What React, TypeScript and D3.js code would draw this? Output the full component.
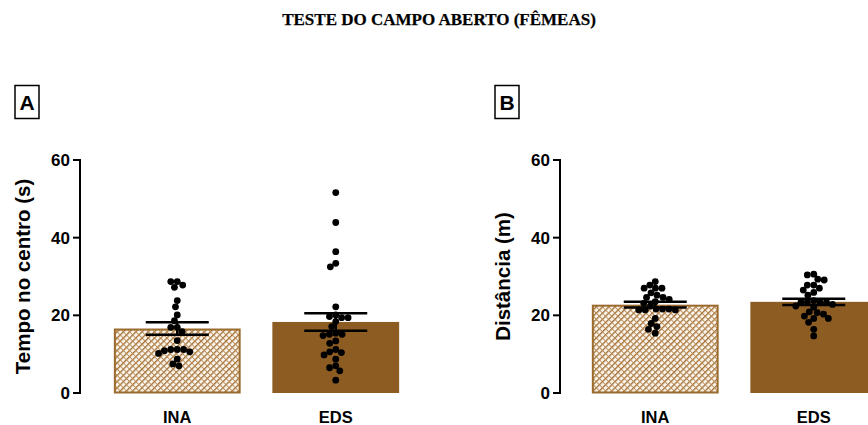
import React from "react";
import * as d3 from "d3";

// Groups shown on the x axis of both panels
const groups = ["INA", "EDS"];

// Panel A: time spent in the centre (s), one value per animal
const tempoINA = [
  27.8, 28.7, 28.7, 27.2, 23.8, 22.2, 20.1, 18.6, 16.9, 16.9, 15.8, 13.5,
  10.6, 10.2, 10.9, 11.2, 11.2, 11.2, 8.7, 7.5, 7.0,
];
const tempoEDS = [
  51.6, 43.9, 36.4, 33.4, 32.5, 22.2, 19.4, 19.7, 20.1, 19.4, 18.4, 17.1,
  15.1, 14.8, 15.4, 15.1, 13.4, 12.8, 11.2, 10.6, 10.4, 9.8, 8.7, 7.0, 6.5,
  5.7, 3.3,
];

// Panel B: distance travelled (m), one value per animal
const distINA = [
  28.7, 27.8, 27.0, 27.0, 27.0, 25.8, 25.2, 24.6, 24.6, 24.1, 23.1, 23.5,
  22.4, 21.4, 21.6, 21.6, 21.6, 21.4, 21.4, 19.2, 17.9, 17.1, 16.4, 15.4,
];
const distEDS = [
  30.6, 30.4, 29.3, 29.1, 27.8, 27.8, 26.5, 27.0, 25.9, 25.2, 23.8, 23.5,
  23.4, 23.4, 23.4, 22.8, 22.1, 22.4, 20.9, 20.7, 20.3, 19.8, 19.2, 19.2,
  18.2, 16.4, 14.7,
];

const yTicks = [0, 20, 40, 60];
const title = "TESTE DO CAMPO ABERTO (FÊMEAS)";

const W = 868;
const H = 425;
const BROWN = "#8c5c22";
const SANS = "'Liberation Sans', Arial, sans-serif";
const SERIF = "'Liberation Serif', 'Times New Roman', serif";
const R = 3.4;

const y = d3.scaleLinear().domain([0, 60]).range([393, 160]);

// Simple beeswarm: place each dot as close to the centre line as possible
function swarm(values: number[], cy: (v: number) => number, r: number) {
  const D = r * 2 * 0.95;
  const placed: { x: number; y: number; v: number }[] = [];
  const order = [...values].sort((a, b) => b - a);
  for (const v of order) {
    const py = cy(v);
    const intervals: [number, number][] = [];
    for (const p of placed) {
      const dy = Math.abs(p.y - py);
      if (dy < D) {
        const dx = Math.sqrt(D * D - dy * dy);
        intervals.push([p.x - dx, p.x + dx]);
      }
    }
    const candidates = [0];
    intervals.forEach(([a, b]) => candidates.push(a, b));
    candidates.sort((a, b) => Math.abs(a) - Math.abs(b));
    let chosen = 0;
    for (const c of candidates) {
      if (intervals.every(([a, b]) => c <= a + 1e-6 || c >= b - 1e-6)) {
        chosen = c;
        break;
      }
    }
    placed.push({ x: chosen, y: py, v });
  }
  return placed;
}

type PanelProps = {
  letter: string;
  axisX: number;
  bandStart: number;
  label: string;
  data: number[][];
};

function Panel({ letter, axisX, bandStart, label, data }: PanelProps) {
  const x = d3
    .scaleBand<string>()
    .domain(groups)
    .range([bandStart, bandStart + 317])
    .paddingInner(0.2)
    .paddingOuter(0.1);
  const bw = x.bandwidth();

  return (
    <g>
      {/* panel letter */}
      <rect x={axisX - 65} y={85.5} width={24} height={33} fill="none" stroke="#000" strokeWidth={1.5} />
      <text x={axisX - 53} y={110} textAnchor="middle" fontFamily={SANS} fontWeight="bold" fontSize={21}>
        {letter}
      </text>

      {/* bars */}
      {groups.map((g, i) => {
        const vals = data[i];
        const mean = d3.mean(vals) as number;
        const hatched = i === 0;
        return (
          <rect
            key={g}
            x={(x(g) as number) + (hatched ? 1 : 0)}
            y={y(mean) + (hatched ? 1 : 0)}
            width={bw - (hatched ? 2 : 0)}
            height={y(0) - y(mean) - (hatched ? 1.5 : 0)}
            fill={hatched ? "url(#hatch)" : BROWN}
            stroke={hatched ? "#9a6a2e" : "none"}
            strokeWidth={2}
          />
        );
      })}

      {/* dots */}
      {groups.map((g, i) => {
        const cx = (x(g) as number) + bw / 2;
        return swarm(data[i], (v) => y(v), R).map((p, k) => (
          <circle key={g + k} cx={cx + p.x} cy={p.y} r={R} fill="#000" />
        ));
      })}

      {/* mean ± SEM */}
      {groups.map((g, i) => {
        const vals = data[i];
        const mean = d3.mean(vals) as number;
        const sem = (d3.deviation(vals) as number) / Math.sqrt(vals.length);
        const cx = (x(g) as number) + bw / 2;
        return (
          <g key={g} stroke="#000" strokeWidth={2.5}>
            <line x1={cx} x2={cx} y1={y(mean + sem)} y2={y(mean - sem)} />
            <line x1={cx - 31.5} x2={cx + 31.5} y1={y(mean + sem)} y2={y(mean + sem)} />
            <line x1={cx - 31.5} x2={cx + 31.5} y1={y(mean - sem)} y2={y(mean - sem)} />
          </g>
        );
      })}

      {/* y axis */}
      <line x1={axisX} x2={axisX} y1={y(60) - 1} y2={y(0) + 1} stroke="#000" strokeWidth={2} />
      {yTicks.map((t) => (
        <g key={t}>
          <line x1={axisX - 7} x2={axisX} y1={y(t)} y2={y(t)} stroke="#000" strokeWidth={2} />
          <text
            x={axisX - 10}
            y={y(t) + 6}
            textAnchor="end"
            fontFamily={SANS}
            fontWeight="bold"
            fontSize={17}
          >
            {t}
          </text>
        </g>
      ))}
      <text
        transform={`translate(${axisX - 50},${(y(0) + y(60)) / 2}) rotate(-90)`}
        textAnchor="middle"
        fontFamily={SANS}
        fontWeight="bold"
        fontSize={20.5}
      >
        {label}
      </text>

      {/* x labels */}
      {groups.map((g) => (
        <text
          key={g}
          x={(x(g) as number) + bw / 2}
          y={423}
          textAnchor="middle"
          fontFamily={SANS}
          fontWeight="bold"
          fontSize={16.5}
        >
          {g}
        </text>
      ))}
    </g>
  );
}

export default function App() {
  return (
    <svg
      width={W}
      height={H}
      viewBox={`0 0 ${W} ${H}`}
      style={{ position: "absolute", left: 0, top: 0, background: "#fff" }}
    >
      <defs>
        <pattern id="hatch" width={4.4} height={4.4} patternUnits="userSpaceOnUse" patternTransform="rotate(45)">
          <rect width={4.4} height={4.4} fill="#fbf4ea" />
          <line x1={0} y1={0} x2={0} y2={4.4} stroke="#a06e34" strokeWidth={2.6} />
          <line x1={0} y1={2.2} x2={4.4} y2={2.2} stroke="#b88a55" strokeWidth={0.9} />
        </pattern>
      </defs>
      <rect width={W} height={H} fill="#fff" />
      <text
        x={439}
        y={25}
        textAnchor="middle"
        fontFamily={SERIF}
        fontWeight="bold"
        fontSize={17}
        stroke="#000"
        strokeWidth={0.25}
      >
        {title}
      </text>
      <Panel letter="A" axisX={80} bandStart={98} label="Tempo no centro (s)" data={[tempoINA, tempoEDS]} />
      <Panel letter="B" axisX={560} bandStart={576} label="Distância (m)" data={[distINA, distEDS]} />
    </svg>
  );
}
